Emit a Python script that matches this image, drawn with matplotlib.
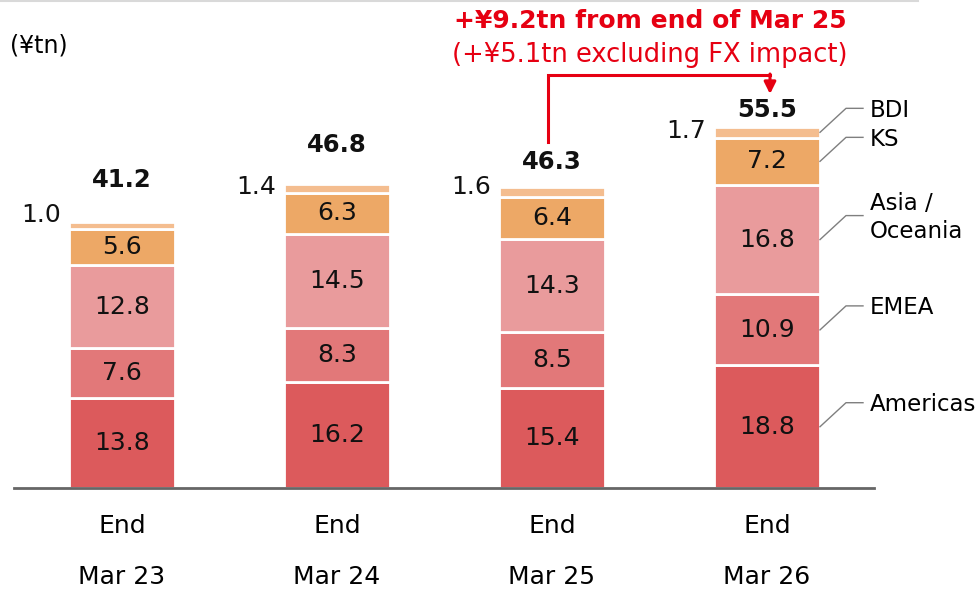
import matplotlib.pyplot as plt
import numpy as np

periods_top = ["End", "End", "End", "End"]
periods_bottom = ["Mar 23", "Mar 24", "Mar 25", "Mar 26"]
segments = ["Americas", "EMEA", "Asia /\nOceania", "KS", "BDI"]
americas = [13.8, 16.2, 15.4, 18.8]
emea = [7.6, 8.3, 8.5, 10.9]
asia = [12.8, 14.5, 14.3, 16.8]
ks = [5.6, 6.3, 6.4, 7.2]
bdi = [1.0, 1.4, 1.6, 1.7]
totals = [41.2, 46.8, 46.3, 55.5]
note_main = "+¥9.2tn from end of Mar 25"
note_sub = "(+¥5.1tn excluding FX impact)"

colors = ["#dc5a5c", "#e27879", "#e99b9c", "#eda866", "#f4bd8f"]
RED = "#e60012"

W, H = 979, 590
fig = plt.figure(figsize=(W / 100, H / 100), dpi=100)
ax = fig.add_axes([0, 0, 1, 1])
ax.axis("off")

# pixel layout -> data limits
px_x = 215.0          # px per bar step
x0_px = 122.0         # centre of first bar
px_y = 6.52           # px per ¥tn
base_px = 488.0
ax.set_xlim(-x0_px / px_x, (W - x0_px) / px_x)
ax.set_ylim(-(H - base_px) / px_y, base_px / px_y)

def dx(p):
    return p / px_x

def dy(p):
    return p / px_y

def ypix(p):
    # data y for a pixel row measured from the top
    return (base_px - p) / px_y

x = np.arange(len(totals))
width = dx(106)
data = [americas, emea, asia, ks, bdi]
bottom = np.zeros(len(totals))
for k, vals in enumerate(data):
    vals = np.array(vals)
    ax.bar(x, vals, width, bottom=bottom, color=colors[k],
           edgecolor="white", linewidth=2, zorder=2)
    if k < 4:
        for i in range(len(x)):
            ax.text(x[i], bottom[i] + vals[i] / 2, f"{vals[i]:.1f}",
                    ha="center", va="center", fontsize=18, color="#111111")
    bottom += vals

# BDI values beside the bars
bdi_shift = [0.6, -0.6, -0.1, -0.7]
for i in range(len(x)):
    ax.text(x[i] - width / 2 - dx(8), totals[i] + bdi_shift[i], f"{bdi[i]:.1f}",
            ha="right", va="center", fontsize=18, color="#111111")

# totals
total_gap = [39, 38, 24, 16]
for i in range(len(x)):
    ax.text(x[i], totals[i] + dy(total_gap[i]), f"{totals[i]:.1f}",
            ha="center", va="center", fontsize=17.5, fontweight="bold",
            color="#111111")

# baseline
ax.plot([-0.5, 3.5], [0, 0], color="#666666", lw=2, zorder=3)

# category labels
for i in range(len(x)):
    ax.text(x[i], ypix(526), periods_top[i], ha="center", va="center",
            fontsize=18)
    ax.text(x[i], ypix(577), periods_bottom[i], ha="center", va="center",
            fontsize=18)

# unit
ax.text(dx(10 - x0_px), ypix(45), "(¥tn)", ha="left", va="center",
        fontsize=17)

# leader lines for segment names
last = len(x) - 1
mids = []
acc = 0.0
for vals in data:
    mids.append(acc + vals[last] / 2)
    acc += vals[last]
xr = x[last] + width / 2
for k, name in enumerate(segments):
    y0 = mids[k]
    y1 = y0 + dy(24)
    ax.plot([xr, xr + dx(26), xr + dx(43)], [y0, y1, y1],
            color="#7f7f7f", lw=1, zorder=3)
    ax.text(xr + dx(50), y1 + dy(-2), name, ha="left", va="center",
            fontsize=16.5, linespacing=1.25)

# red arrow from Mar 25 to Mar 26
ya = ypix(75)
xs = x[2] - dx(4)
xe = x[3] + dx(3)
ax.plot([xs, xs, xe], [ypix(142), ya, ya], color=RED, lw=2.2,
        solid_joinstyle="miter", zorder=4)
ax.annotate("", xy=(xe, ypix(94)), xytext=(xe, ya + dy(1)),
            arrowprops=dict(arrowstyle="-|>,head_length=0.7,head_width=0.35",
                            color=RED, lw=2.2, shrinkA=0, shrinkB=0))

xc = dx(650 - x0_px)
ax.text(xc, ypix(21), note_main, ha="center", va="center",
        fontsize=18, fontweight="bold", color=RED)
ax.text(xc, ypix(55), note_sub, ha="center", va="center",
        fontsize=18.5, color=RED)

# thin rule at top of slide
fig.add_artist(plt.Line2D([0, 918 / W], [1 - 1 / H, 1 - 1 / H],
                          color="#d9d9d9", lw=1.5, transform=fig.transFigure))

fig.savefig("out.png", dpi=100)
